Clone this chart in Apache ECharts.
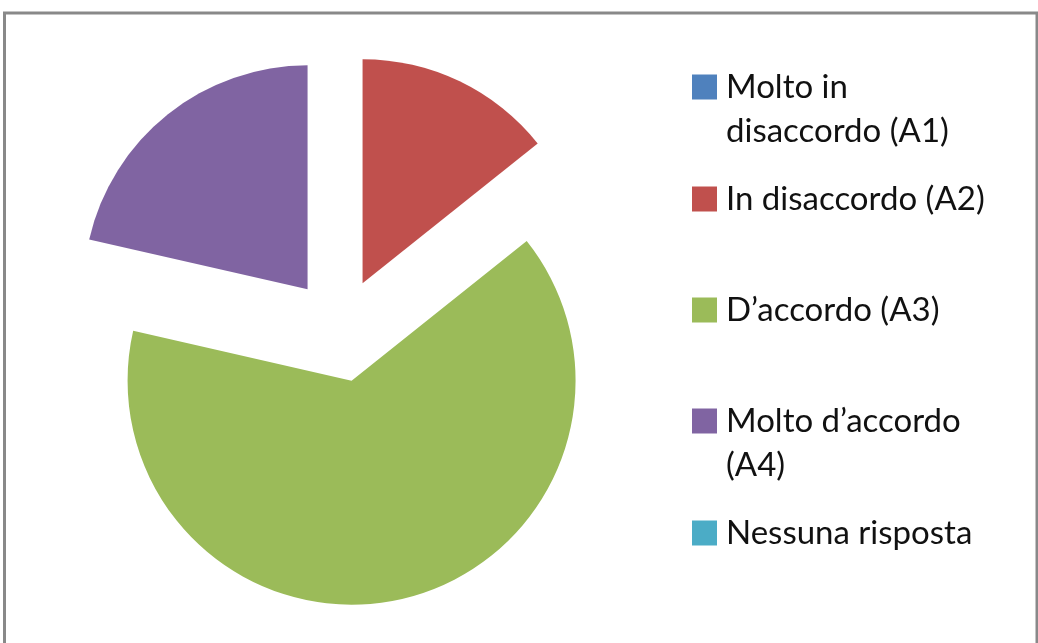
<!DOCTYPE html>
<html>
<head>
<meta charset="utf-8">
<script src="https://cdn.jsdelivr.net/npm/echarts@6/dist/echarts.min.js"></script>
<style>
  html, body { margin: 0; padding: 0; background: #fff; }
  #chart { width: 1038px; height: 643px; }
</style>
</head>
<body>
<div id="chart"></div>
<script>
const categories = [
  'Molto in\ndisaccordo (A1)',
  'In disaccordo (A2)',
  'D\u2019accordo (A3)',
  'Molto d\u2019accordo\n(A4)',
  'Nessuna risposta'
];
const values = [0, 2, 9, 3, 0];
const colors = ['#4F81BD', '#C0504D', '#9BBB59', '#8064A2', '#4BACC6'];

// first-line centre of each legend entry
const legendRows = [87, 199, 310, 421, 533];
const lineH = 44;

const chart = echarts.init(document.getElementById('chart'));

// one legend per entry so the marker sits on the first text line
const legends = categories.map((name, i) => {
  const twoLines = name.includes('\n');
  return {
    show: true,
    orient: 'vertical',
    left: 692,
    top: legendRows[i] - (twoLines ? lineH * 1.5 : lineH / 2),
    padding: 0,
    itemWidth: 25,
    itemHeight: 25,
    selectedMode: false,
    icon: 'rect',
    data: [name],
    formatter: (n) => (n.includes('\n') ? '\n' + n : n),
    textStyle: {
      fontFamily: 'Lato',
      fontSize: 33,
      color: '#111',
      lineHeight: lineH,
      padding: [0, 0, 0, 4]
    }
  };
});

chart.setOption({
  animation: false,
  color: colors,
  legend: legends,
  graphic: [{
    type: 'rect',
    shape: { x: 4.5, y: 13, width: 1032.5, height: 660 },
    style: { fill: 'none', stroke: '#898989', lineWidth: 3 },
    silent: true
  }],
  series: [{
    type: 'pie',
    center: [340, 330],
    radius: 224,
    startAngle: 90,
    clockwise: true,
    selectedMode: 'multiple',
    selectedOffset: 52,
    label: { show: false },
    labelLine: { show: false },
    emphasis: { disabled: true },
    data: categories.map((name, i) => ({
      name,
      value: values[i],
      selected: true,
      itemStyle: { color: colors[i] }
    }))
  }]
});
</script>
</body>
</html>
